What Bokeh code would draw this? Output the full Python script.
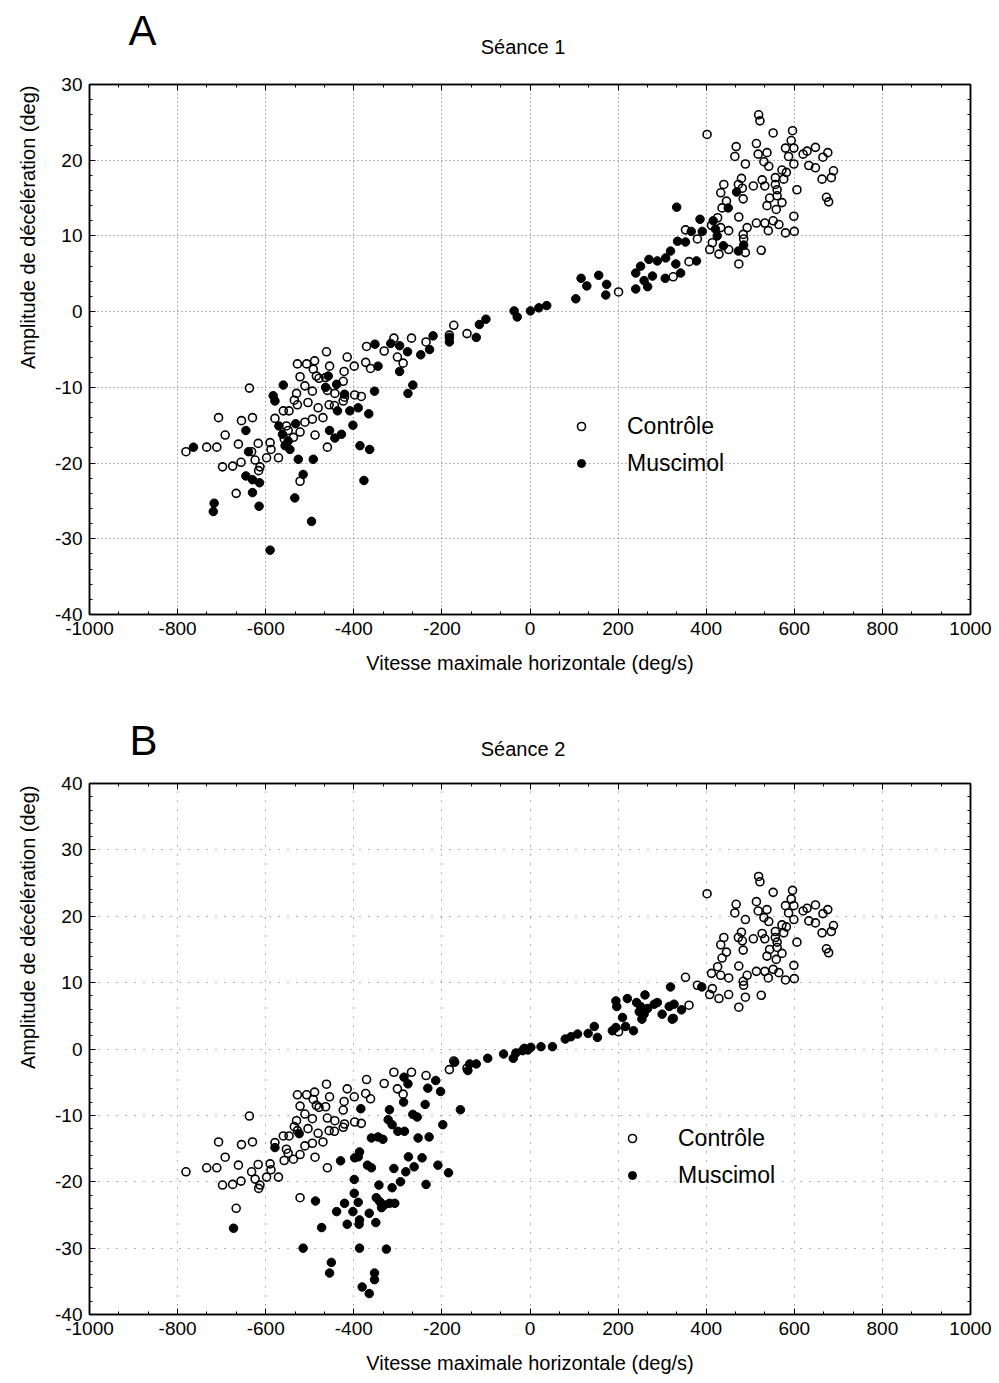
from bokeh.plotting import figure
from bokeh.models import (Range1d, SingleIntervalTicker, LinearAxis, Legend, LegendItem, Title,
                          CustomJSTickFormatter)
from bokeh.core.properties import value
from bokeh.layouts import column
from bokeh.embed import file_html
from bokeh.resources import INLINE

# ---------------- data ----------------
ctrl_x = [402, 519, 522, 552, 596, 593, 514, 468, 465, 489, 518, 538, 531, 542, 580, 599, 587, 599,
          620, 629, 648, 633, 648, 665, 676, 689, 684, 663, 673, 678, 572, 582, 557, 576, 557, 561,
          606, 527, 533, 507, 480, 473, 482, 484, 440, 433, 446, 436, 544, 561, 572, 538, 559, 599,
          474, 514, 533, 552, 565, 541, 580, 600, 493, 484, 485, 489, 525, 474, 426, 412, 451, 433,
          414, 408, 429, 451, 353, 380, 361, 325, 201,
          -173, -183, -143, -236, -269, -309, -331, -371, -462, -415, -301, -288, -399, -373, -362,
          -422, -528, -507, -489, -455, -492, -485, -479, -464, -522, -511, -424, -460, -494, -443,
          -421, -398, -383, -424, -456, -481, -504, -528, -535, -547, -560, -470, -494, -511, -553,
          -579, -549, -522, -488, -558, -537, -590, -571, -598, -588, -617, -632, -624, -613, -616,
          -656, -675, -698, -662, -637, -707, -655, -630, -692, -734, -711, -781, -667, -460, -522,
          -530, -444]
ctrl_y = [23.4, 26.0, 25.2, 23.6, 23.9, 22.6, 22.2, 21.8, 20.5, 19.5, 20.8, 21.0, 19.8, 19.2, 21.6, 21.6, 20.5, 19.5,
          20.8, 21.2, 21.7, 19.3, 19.0, 20.4, 21.0, 18.6, 17.7, 17.5, 15.1, 14.5, 18.7, 18.4, 17.7, 17.5, 16.8, 16.1,
          16.1, 17.4, 16.6, 16.6, 17.6, 16.8, 16.3, 14.9, 16.8, 15.7, 14.6, 13.7, 15.0, 15.3, 14.4, 14.0, 13.5, 12.6,
          12.5, 11.7, 11.7, 12.0, 11.5, 10.7, 10.4, 10.6, 11.1, 10.2, 9.6, 7.8, 8.1, 6.3, 12.4, 11.4, 10.7, 11.1,
          9.1, 8.2, 7.6, 8.2, 10.8, 9.6, 6.6, 4.6, 2.6,
          -1.8, -3.1, -2.9, -4.0, -3.5, -3.5, -5.2, -4.6, -5.3, -6.0, -6.0, -6.8, -7.2, -6.7, -7.5,
          -7.9, -6.9, -6.9, -6.5, -7.2, -7.6, -8.5, -8.8, -8.7, -8.6, -9.8, -9.2, -10.4, -10.5, -10.8,
          -11.3, -11.0, -11.2, -11.8, -12.3, -12.7, -12.0, -12.3, -11.7, -13.1, -13.1, -14.0, -14.2, -14.6, -15.1,
          -14.1, -15.7, -15.9, -16.3, -16.8, -16.6, -17.3, -19.3, -19.3, -18.2, -17.4, -18.5, -19.6, -20.5, -21.0,
          -19.9, -20.4, -20.5, -17.5, -10.1, -14.0, -14.4, -14.0, -16.3, -17.9, -17.9, -18.5, -24.0, -17.9, -22.4,
          -10.8, -12.4]

musc1_x = [333, 386, 416, 421, 450, 469, 391, 366, 353, 335, 425, 439, 473, 485, 319, 308, 289, 270,
           251, 240, 278, 307, 331, 342, 378, 259, 240, 267, 174, 156, 129, 116, 172, 104, 38, 20,
           1, -36, -29, -100, -115, -122, -183, -183, -220, -228, -248, -278, -296, -316, -352,
           -345, -296, -266, -277, -353, -366, -364, -386, -402, -377, -390, -409, -437, -458, -464,
           -439, -421, -455, -443, -428, -532, -570, -562, -549, -556, -545, -526, -492, -515, -534,
           -496, -590, -583, -579, -560, -645, -639, -645, -630, -614, -630, -615, -717, -719, -764]
musc1_y = [13.8, 12.2, 12.0, 10.9, 13.7, 15.8, 10.6, 10.6, 9.2, 9.3, 10.0, 8.7, 8.0, 8.8, 8.0, 7.1, 6.7, 6.9,
           6.0, 5.1, 4.7, 4.4, 6.3, 5.1, 6.7, 4.1, 3.0, 3.3, 3.6, 4.8, 3.4, 4.4, 2.2, 1.7, 0.8, 0.5,
           0.1, 0.1, -0.7, -1.0, -1.7, -3.4, -3.4, -4.0, -3.2, -5.0, -5.7, -5.3, -4.5, -4.2, -4.3,
           -7.2, -7.9, -9.7, -10.8, -10.5, -13.5, -18.2, -17.7, -15.0, -22.3, -12.7, -13.1, -13.1, -8.5, -10.0,
           -9.6, -10.9, -15.7, -16.7, -16.2, -14.8, -15.1, -16.2, -17.1, -17.7, -18.2, -19.5, -19.5, -21.5, -24.6,
           -27.7, -31.5, -11.1, -11.8, -9.7, -15.7, -18.5, -21.7, -22.2, -22.6, -23.9, -25.7, -25.3, -26.4, -17.9]

musc2_x = [319, 261, 221, 195, 197, 242, 251, 282, 289, 267, 248, 259, 254, 210, 300, 316, 327, 323,
           344, 390, 235, 217, 195, 187, 153, 146, 132, 108, 93, 80, 51, 25, 2, -13,
           -5, -17, -32, -38, -60, -96, -171, -137, -122, -141, -286, -277, -214, -232, -203, -287,
           -238, -158, -319, -384, -322, -313, -266, -256, -198, -300, -285, -360, -345, -334, -254,
           -229, -524, -579, -387, -390, -398, -430, -369, -360, -309, -276, -245, -263, -282, -209,
           -185, -399, -294, -236, -343, -313, -399, -390, -421, -487, -349, -341, -331, -319, -307,
           -337, -439, -402, -365, -387, -388, -350, -415, -473, -673, -515, -387, -326, -451, -455,
           -353, -353, -381, -365]
musc2_y = [9.35, 8.15, 7.6, 7.25, 6.4, 7.0, 6.4, 6.75, 7.0, 6.1, 5.6, 5.25, 4.5, 4.75, 5.25, 6.4, 6.75, 4.5,
           5.9, 9.35, 2.75, 3.4, 3.25, 2.75, 1.75, 3.4, 2.35, 2.25, 1.85, 1.5, 0.35, 0.35, 0.25, 0.1,
           -0.15, -0.25, -0.6, -1.4, -0.75, -1.4, -2.0, -2.25, -2.25, -3.25, -4.25, -5.25, -4.75, -5.9, -6.4, -8.0,
           -8.35, -9.15, -9.15, -9.0, -10.65, -11.4, -9.85, -10.25, -11.4, -12.4, -12.4, -13.4, -13.25, -13.6, -13.4,
           -13.25, -12.75, -14.85, -15.5, -16.25, -16.4, -16.85, -17.5, -17.9, -18.0, -16.25, -16.4, -17.75, -18.5, -17.5,
           -18.65, -19.65, -20.0, -20.4, -20.5, -20.9, -21.75, -23.1, -23.25, -22.9, -22.4, -23.0, -23.5, -23.25, -23.25,
           -23.9, -24.5, -24.5, -24.75, -25.75, -26.4, -26.15, -26.4, -26.9, -27.0, -30.0, -30.0, -30.15, -32.15, -33.75,
           -33.75, -34.75, -35.85, -36.85]

x_ticks_step = 200
y_ticks_step = 10
labels_ctrl = "Contrôle"
labels_musc = "Muscimol"
x_title = "Vitesse maximale horizontale (deg/s)"
y_title = "Amplitude de décélération (deg)"

FONT = "Liberation Sans"
FIG_W = 999
FL, FR = 88, 970      # frame left/right on the page


def style_axis(ax, show_labels):
    ax.axis_line_color = "black"
    ax.axis_line_width = 1.5
    ax.major_tick_in = 6
    ax.major_tick_out = 0
    ax.minor_tick_in = 3
    ax.minor_tick_out = 0
    ax.major_tick_line_color = "black"
    ax.minor_tick_line_color = "black"
    ax.major_label_text_font = FONT
    ax.major_label_text_color = "black"
    if show_labels:
        ax.major_label_standoff = 7
        ax.major_label_text_font_size = "19px"
        ax.formatter = CustomJSTickFormatter(code="return tick.toFixed(0)")
    else:
        ax.major_label_standoff = 0
        ax.major_label_text_font_size = "1px"
        ax.formatter = CustomJSTickFormatter(code="return ''")


def make_header(height, letter, title, letter_xy, title_xy):
    # blank strip; its frame is aligned with the panels' frames, so x is the page pixel
    # over [FL, FR] and y is measured downward in pixels
    h = figure(width=FIG_W, height=height, output_backend="svg", toolbar_location=None,
               x_range=Range1d(FL, FR), y_range=Range1d(height, 0),
               x_axis_location=None, y_axis_location=None,
               min_border_left=FL, min_border_right=FIG_W - FR, min_border_top=0, min_border_bottom=0)
    h.outline_line_color = None
    h.grid.visible = False
    h.background_fill_color = "white"
    h.border_fill_color = "white"
    h.text(x=[letter_xy[0]], y=[letter_xy[1]], text=[letter], text_font=value(FONT),
           text_font_size="42px", text_align="center", text_baseline="middle", text_color="black")
    h.text(x=[title_xy[0]], y=[title_xy[1]], text=[title], text_font=value(FONT),
           text_font_size="20px", text_align="center", text_baseline="middle", text_color="black")
    return h


def make_panel(height, b_top, b_bot, ymin, ymax, musc_x, musc_y, legend_loc, grid_dash, ylab_offset):
    p = figure(width=FIG_W, height=height, output_backend="svg", toolbar_location=None,
               x_range=Range1d(-1000, 1000), y_range=Range1d(ymin, ymax),
               min_border_left=FL, min_border_right=FIG_W - FR,
               min_border_top=b_top, min_border_bottom=b_bot)
    p.background_fill_color = "white"
    p.border_fill_color = "white"
    p.outline_line_color = "black"
    p.outline_line_width = 1.5

    xt = SingleIntervalTicker(interval=x_ticks_step, num_minor_ticks=3)
    yt = SingleIntervalTicker(interval=y_ticks_step, num_minor_ticks=5)
    x_main = p.xaxis[0]
    y_main = p.yaxis[0]
    x_main.ticker = xt
    y_main.ticker = yt
    p.xgrid.ticker = xt
    p.ygrid.ticker = yt
    style_axis(x_main, True)
    style_axis(y_main, True)

    # x axis title (bottom axis only)
    x_main.axis_label = x_title
    x_main.axis_label_text_font = FONT
    x_main.axis_label_text_font_size = "20px"
    x_main.axis_label_text_font_style = "normal"
    x_main.axis_label_text_color = "black"
    x_main.axis_label_standoff = 14

    # frame ticks on the top and right sides, without labels
    top_ax = LinearAxis(ticker=xt)
    right_ax = LinearAxis(ticker=yt)
    style_axis(top_ax, False)
    style_axis(right_ax, False)
    p.add_layout(top_ax, "above")
    p.add_layout(right_ax, "right")

    # y axis title, anchored near the top of the frame like the original
    yt_title = Title(text=y_title, align="right", offset=ylab_offset, standoff=28,
                     text_font=FONT, text_font_size="20px", text_font_style="normal",
                     text_color="black")
    p.add_layout(yt_title, "left")

    for g in (p.xgrid, p.ygrid):
        g.grid_line_color = "#666666"
        g.grid_line_dash = grid_dash
        g.grid_line_width = 1

    r_m = p.scatter(musc_x, musc_y, marker="circle", size=8.5, fill_color="black",
                    line_color="black", line_width=1)
    r_c = p.scatter(ctrl_x, ctrl_y, marker="circle", size=8, fill_color=None,
                    line_color="black", line_width=1.6)

    legend = Legend(items=[LegendItem(label=labels_ctrl, renderers=[r_c]),
                           LegendItem(label=labels_musc, renderers=[r_m])],
                    location=legend_loc, padding=0, spacing=9, glyph_width=20, glyph_height=28,
                    label_height=28, label_standoff=36, border_line_color=None,
                    background_fill_alpha=0, label_text_font=FONT, label_text_font_size="23px",
                    label_text_color="black")
    p.add_layout(legend, "center")
    return p


# page rows: header A 0-60, panel A 60-690 (frame 84-614), header B 690-770, panel B 770-1376 (frame 783-1317)
hA = make_header(60, "A", "Séance 1", (141, 30), (522, 46))
pA = make_panel(630, 24, 76, -40, 30, musc1_x, musc1_y, (482, 137), "1 3", 1)
hB = make_header(80, "B", "Séance 2", (142, 50), (522, 58))
pB = make_panel(606, 13, 59, -40, 40, musc2_x, musc2_y, (533, 125), "1 8", 2)

layout = column(hA, pA, hB, pB)
open("out.html", "w").write(file_html(layout, INLINE))
